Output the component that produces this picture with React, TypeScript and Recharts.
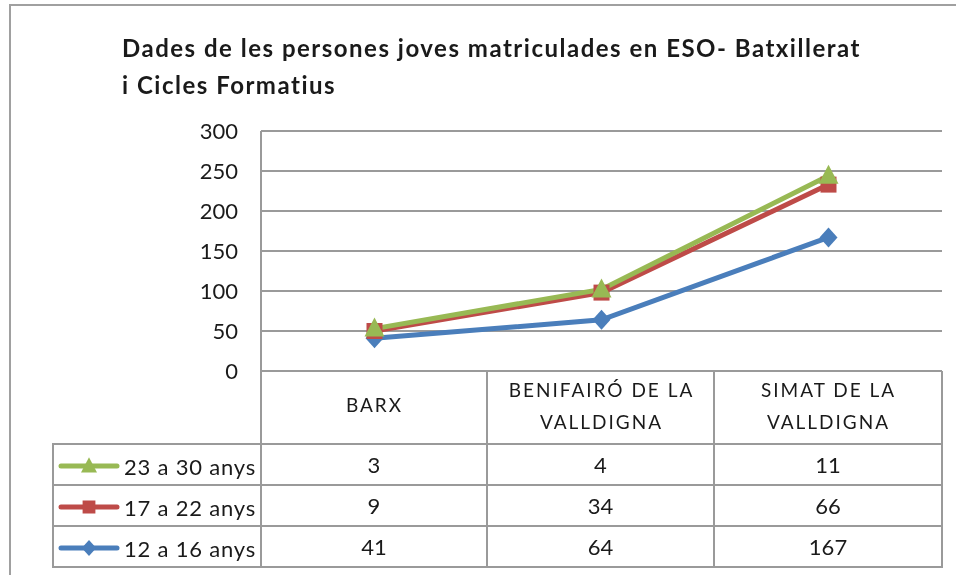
import { ComposedChart, Area, XAxis, YAxis, CartesianGrid } from 'recharts'

const categories = ['BARX', 'BENIFAIRÓ DE LA VALLDIGNA', 'SIMAT DE LA VALLDIGNA']
const categoryLines: Record<string, string[]> = {
  BARX: ['BARX'],
  'BENIFAIRÓ DE LA VALLDIGNA': ['BENIFAIRÓ DE LA', 'VALLDIGNA'],
  'SIMAT DE LA VALLDIGNA': ['SIMAT DE LA', 'VALLDIGNA'],
}
const anys12a16 = [41, 64, 167]
const anys17a22 = [9, 34, 66]
const anys23a30 = [3, 4, 11]
const yTicks = [0, 50, 100, 150, 200, 250, 300]

const titleLines = [
  'Dades de les persones joves matriculades en ESO- Batxillerat',
  'i Cicles Formatius',
]

const data = categories.map((c, i) => ({
  cat: c,
  a12: anys12a16[i],
  a17: anys17a22[i],
  a23: anys23a30[i],
}))

type Shape = 'diamond' | 'square' | 'triangle'

// stacked bottom-to-top, legend rows are listed top-to-bottom
const series: { key: 'a12' | 'a17' | 'a23'; name: string; color: string; shape: Shape }[] = [
  { key: 'a12', name: '12 a 16 anys', color: '#4a7ebb', shape: 'diamond' },
  { key: 'a17', name: '17 a 22 anys', color: '#be4b48', shape: 'square' },
  { key: 'a23', name: '23 a 30 anys', color: '#98b954', shape: 'triangle' },
]

const FONT = 'Lato, "Open Sans", sans-serif'
const GRID = '#9a9a9a'

function markerPath(shape: Shape, cx: number, cy: number, s = 1) {
  if (shape === 'diamond')
    return `M${cx},${cy - 10 * s}L${cx + 9 * s},${cy}L${cx},${cy + 10 * s}L${cx - 9 * s},${cy}Z`
  if (shape === 'square') return `M${cx - 8 * s},${cy - 8 * s}h${16 * s}v${16 * s}h${-16 * s}Z`
  return `M${cx},${cy - 11 * s}L${cx + 10 * s},${cy + 8 * s}L${cx - 10 * s},${cy + 8 * s}Z`
}

const makeDot = (shape: Shape, color: string) => (props: any) => {
  const { cx, cy, index } = props
  if (cx == null || cy == null) return <g key={index} />
  return <path key={index} d={markerPath(shape, cx, cy)} fill={color} />
}

function CatTick(props: any) {
  const { x, y, payload } = props
  const lines = categoryLines[payload.value] ?? [payload.value]
  const offsets = lines.length === 1 ? [36.5] : [21, 53]
  return (
    <g>
      {lines.map((l, i) => (
        <text
          key={i}
          x={x}
          y={y + offsets[i]}
          textAnchor="middle"
          dominantBaseline="middle"
          fontFamily={FONT}
          fontSize={19}
          letterSpacing={2}
          fill="#1a1a1a"
        >
          {l}
        </text>
      ))}
    </g>
  )
}

function LegendKey({ shape, color }: { shape: Shape; color: string }) {
  return (
    <svg width={62} height={22} style={{ verticalAlign: 'middle', marginRight: 4 }}>
      <line x1={3} y1={11} x2={59} y2={11} stroke={color} strokeWidth={5} strokeLinecap="round" />
      <path d={markerPath(shape, 31, 11, 0.8)} fill={color} />
    </svg>
  )
}

const cellBorder = `2px solid ${GRID}`

export default function App() {
  // page coordinates of the chart origin: (9, 5)
  const legendRows = [...series].reverse()
  return (
    <div style={{ position: 'fixed', left: 9, top: 5, width: 940, height: 570, fontFamily: FONT }}>
      <div
        style={{
          position: 'absolute',
          left: 0,
          top: -1,
          width: 980,
          height: 620,
          border: '2px solid #a0a0a0',
        }}
      />
      <div
        style={{
          position: 'absolute',
          left: 113,
          top: 24,
          fontSize: 24,
          fontWeight: 700,
          letterSpacing: 1.5,
          color: '#1a1a1a',
          lineHeight: '37px',
          whiteSpace: 'nowrap',
        }}
      >
        {titleLines.map((t) => (
          <div key={t}>{t}</div>
        ))}
      </div>
      <ComposedChart
        width={940}
        height={570}
        data={data}
        margin={{ top: 126, right: 7, bottom: 131, left: 212 }}
        style={{ position: 'absolute', left: 0, top: 0 }}
      >
        <CartesianGrid stroke={GRID} strokeWidth={2} vertical={false} />
        <XAxis
          dataKey="cat"
          scale="band"
          height={73}
          tick={<CatTick />}
          tickLine={false}
          tickSize={0}
          tickMargin={0}
          axisLine={{ stroke: GRID, strokeWidth: 2 }}
          interval={0}
        />
        <YAxis
          domain={[0, 300]}
          ticks={yTicks}
          width={40}
          tickSize={0}
          tickMargin={23}
          tickLine={false}
          axisLine={{ stroke: GRID, strokeWidth: 2 }}
          tick={{ fontSize: 22, fill: '#1a1a1a', fontFamily: FONT }}
        />
        {series.map((s) => (
          <Area
            key={s.key}
            type="linear"
            dataKey={s.key}
            name={s.name}
            stackId="edat"
            stroke={s.color}
            strokeWidth={5}
            fill="none"
            fillOpacity={0}
            dot={makeDot(s.shape, s.color)}
            activeDot={false}
            isAnimationActive={false}
          />
        ))}
      </ComposedChart>
      <table
        style={{
          position: 'absolute',
          left: 43,
          top: 366,
          borderCollapse: 'collapse',
          tableLayout: 'fixed',
          fontFamily: FONT,
          color: '#1a1a1a',
        }}
      >
        <colgroup>
          <col style={{ width: 208 }} />
          <col style={{ width: 226 }} />
          <col style={{ width: 227 }} />
          <col style={{ width: 228 }} />
        </colgroup>
        <tbody>
          <tr style={{ height: 73 }}>
            <td style={{ padding: 0 }} />
            {categories.map((c) => (
              <td key={c} style={{ borderLeft: cellBorder, borderRight: cellBorder, padding: 0 }} />
            ))}
          </tr>
          {legendRows.map((s) => {
            const vals = s.key === 'a12' ? anys12a16 : s.key === 'a17' ? anys17a22 : anys23a30
            return (
              <tr key={s.key} style={{ height: 41 }}>
                <td
                  style={{
                    border: cellBorder,
                    padding: '0 0 0 4px',
                    fontSize: 22,
                    letterSpacing: 0.8,
                    whiteSpace: 'nowrap',
                  }}
                >
                  <LegendKey shape={s.shape} color={s.color} />
                  <span style={{ verticalAlign: 'middle' }}>{s.name}</span>
                </td>
                {vals.map((v, i) => (
                  <td key={i} style={{ border: cellBorder, textAlign: 'center', fontSize: 22, padding: 0 }}>
                    {v}
                  </td>
                ))}
              </tr>
            )
          })}
        </tbody>
      </table>
    </div>
  )
}
